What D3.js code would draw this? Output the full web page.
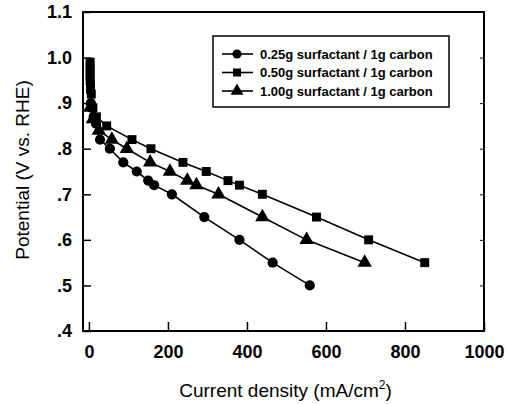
<!DOCTYPE html>
<html>
<head>
<meta charset="utf-8">
<script src="https://cdn.jsdelivr.net/npm/d3@7"></script>
<style>
  body { margin: 0; background: #fff; }
  svg { font-family: "Liberation Sans", Arial, sans-serif; }
</style>
</head>
<body>
<div id="chart"></div>
<script>
// series labels
var seriesNames = ["0.25g surfactant / 1g carbon", "0.50g surfactant / 1g carbon", "1.00g surfactant / 1g carbon"];
var seriesSymbols = [d3.symbolCircle, d3.symbolSquare, d3.symbolTriangle];

// current density (mA/cm2) and potential (V vs. RHE)
var current025 = [5, 8, 12, 18, 28, 53, 87, 121, 150, 165, 210, 292, 381, 465, 559];
var potential025 = [0.90, 0.89, 0.87, 0.855, 0.82, 0.80, 0.77, 0.75, 0.73, 0.72, 0.70, 0.65, 0.60, 0.55, 0.50];

var current050 = [3, 3, 3, 3, 3, 4, 4, 6, 10, 19, 45, 109, 157, 238, 297, 352, 381, 439, 576, 708, 850];
var potential050 = [0.99, 0.98, 0.97, 0.96, 0.95, 0.94, 0.93, 0.92, 0.89, 0.87, 0.85, 0.82, 0.80, 0.77, 0.75, 0.73, 0.72, 0.70, 0.65, 0.60, 0.55];

var current100 = [3, 10, 25, 58, 96, 155, 205, 249, 272, 328, 439, 551, 698];
var potential100 = [0.89, 0.865, 0.84, 0.82, 0.80, 0.77, 0.75, 0.73, 0.72, 0.70, 0.65, 0.60, 0.55];

var xTicks = [0, 200, 400, 600, 800, 1000];
var yTicks = [0.4, 0.5, 0.6, 0.7, 0.8, 0.9, 1.0, 1.1];
var yTickLabels = [".4", ".5", ".6", ".7", ".8", ".9", "1.0", "1.1"];

var series = [
    { name: seriesNames[0], symbol: seriesSymbols[0], size: 82, x: current025, y: potential025 },
    { name: seriesNames[1], symbol: seriesSymbols[1], size: 80, x: current050, y: potential050 },
    { name: seriesNames[2], symbol: seriesSymbols[2], size: 90, x: current100, y: potential100 }
];

var margin = { top: 12, right: 26, bottom: 73, left: 83 },
    width = 510 - margin.left - margin.right,
    height = 404 - margin.top - margin.bottom;

var svg = d3.select("#chart")
    .append("svg")
    .attr("width", 510)
    .attr("height", 404)
    .append("g")
    .attr("transform", "translate(" + margin.left + "," + margin.top + ")");

var x = d3.scaleLinear().domain([-15, 1000]).range([0, width]);
var y = d3.scaleLinear().domain([0.4, 1.1]).range([height, 0]);

// ticks inside the frame
var xAxis = svg.append("g")
    .attr("transform", "translate(0," + height + ")")
    .call(d3.axisBottom(x).tickValues(xTicks).tickSizeInner(-9).tickSizeOuter(0).tickPadding(14)
        .tickFormat(d3.format("d")));
xAxis.select(".domain").remove();
xAxis.selectAll("line").attr("stroke-width", 1.5);
xAxis.selectAll("text")
    .style("font-size", "18px")
    .style("font-weight", "bold")
    .attr("fill", "#000");

var yAxis = svg.append("g")
    .call(d3.axisLeft(y).tickValues(yTicks).tickSizeInner(-8).tickSizeOuter(0).tickPadding(11)
        .tickFormat(function (d, i) { return yTickLabels[i]; }));
yAxis.select(".domain").remove();
yAxis.selectAll("line").attr("stroke-width", 1.5);
yAxis.selectAll("text")
    .style("font-size", "18px")
    .style("font-weight", "bold")
    .attr("fill", "#000");

// small ticks on the right side
var yRight = svg.append("g")
    .attr("transform", "translate(" + width + ",0)")
    .call(d3.axisRight(y).tickValues(yTicks).tickSizeInner(-4).tickSizeOuter(0).tickFormat(""));
yRight.select(".domain").remove();

// frame
svg.append("rect")
    .attr("x", 0).attr("y", 0)
    .attr("width", width).attr("height", height)
    .attr("fill", "none")
    .attr("stroke", "#000")
    .attr("stroke-width", 2);

var line = d3.line()
    .x(function (d) { return x(d[0]); })
    .y(function (d) { return y(d[1]); });

series.forEach(function (s) {
    var pts = s.x.map(function (v, i) { return [v, s.y[i]]; });
    svg.append("path")
        .datum(pts)
        .attr("fill", "none")
        .attr("stroke", "#000")
        .attr("stroke-width", 1.6)
        .attr("d", line);
    svg.selectAll(null)
        .data(pts)
        .enter()
        .append("path")
        .attr("transform", function (d) { return "translate(" + x(d[0]) + "," + y(d[1]) + ")"; })
        .attr("d", d3.symbol().type(s.symbol).size(s.size))
        .attr("fill", "#000");
});

// legend
var legend = svg.append("g").attr("transform", "translate(" + (213 - margin.left) + "," + (36 - margin.top) + ")");
legend.append("rect")
    .attr("width", 236).attr("height", 71)
    .attr("fill", "#fff")
    .attr("stroke", "#000")
    .attr("stroke-width", 1.5);
series.forEach(function (s, i) {
    var ly = 18 + i * 18.5;
    legend.append("line")
        .attr("x1", 9).attr("x2", 40)
        .attr("y1", ly).attr("y2", ly)
        .attr("stroke", "#000").attr("stroke-width", 1.6);
    legend.append("path")
        .attr("transform", "translate(24," + ly + ")")
        .attr("d", d3.symbol().type(s.symbol).size(s.size * 0.8))
        .attr("fill", "#000");
    legend.append("text")
        .attr("x", 47).attr("y", ly + 4.5)
        .style("font-size", "13px")
        .style("font-weight", "bold")
        .text(s.name);
});

// axis titles
svg.append("text")
    .attr("x", width / 2 + 2)
    .attr("y", height + 66)
    .attr("text-anchor", "middle")
    .style("font-size", "19px")
    .html('Current density (mA/cm<tspan dy="-8" font-size="12px">2</tspan><tspan dy="8">)</tspan>');

svg.append("text")
    .attr("transform", "rotate(-90)")
    .attr("x", -(170 - margin.top))
    .attr("y", -54)
    .attr("text-anchor", "middle")
    .style("font-size", "19px")
    .text("Potential (V vs. RHE)");
</script>
</body>
</html>
